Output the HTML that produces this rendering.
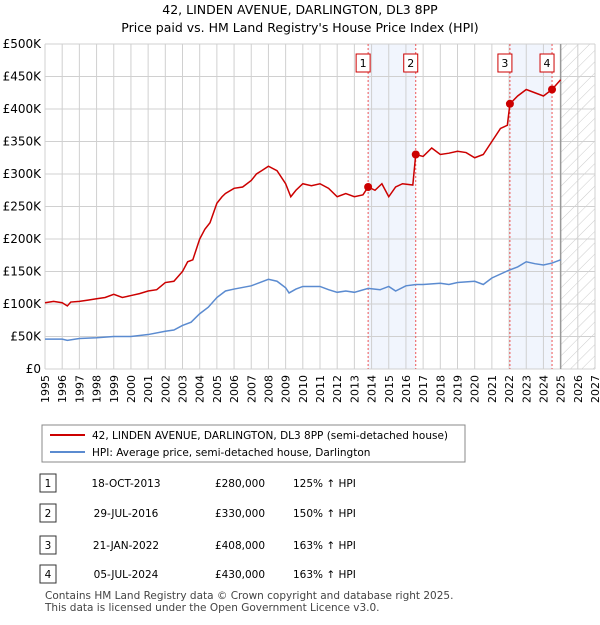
<!DOCTYPE html>
<html><head><meta charset="utf-8"><style>
body{margin:0;background:#fff;font-family:"Liberation Sans","DejaVu Sans",sans-serif;}
svg text{font-family:"DejaVu Sans","Liberation Sans",sans-serif;}
</style></head><body>
<svg id="c" width="600" height="620" xmlns="http://www.w3.org/2000/svg">
<defs><pattern id="h" width="8" height="8" patternUnits="userSpaceOnUse" patternTransform="rotate(45)"><line x1="0" y1="0" x2="0" y2="8" stroke="#ccc" stroke-width="1"/></pattern></defs>
<text x="300" y="14" text-anchor="middle" font-size="12.5">42, LINDEN AVENUE, DARLINGTON, DL3 8PP</text>
<text x="300" y="32" text-anchor="middle" font-size="12.5">Price paid vs. HM Land Registry's House Price Index (HPI)</text>
<g id="plot"></g>
<rect x="42" y="425" width="423" height="37" fill="#fff" stroke="#888"/>
<line x1="50" y1="435" x2="85" y2="435" stroke="#cc0000" stroke-width="2"/>
<text x="92" y="439" font-size="10.5">42, LINDEN AVENUE, DARLINGTON, DL3 8PP (semi-detached house)</text>
<line x1="50" y1="452" x2="85" y2="452" stroke="#5b8bd0" stroke-width="2"/>
<text x="92" y="456" font-size="10.5">HPI: Average price, semi-detached house, Darlington</text>
<g id="tbl"></g>
<text x="45" y="599" font-size="10.5" fill="#444">Contains HM Land Registry data © Crown copyright and database right 2025.</text>
<text x="45" y="611" font-size="10.5" fill="#444">This data is licensed under the Open Government Licence v3.0.</text>
</svg>
<script>
const redT=[1995,1995.5,1996,1996.3,1996.5,1997,1997.5,1998,1998.5,1999,1999.5,2000,2000.5,2001,2001.5,2002,2002.5,2003,2003.3,2003.6,2004,2004.3,2004.6,2005,2005.3,2005.5,2006,2006.5,2007,2007.3,2007.6,2008,2008.5,2009,2009.3,2009.6,2010,2010.5,2011,2011.5,2012,2012.5,2013,2013.5,2013.8,2014.2,2014.6,2015,2015.4,2015.8,2016.4,2016.57,2017,2017.5,2018,2018.5,2019,2019.5,2020,2020.5,2021,2021.5,2021.9,2022.05,2022.5,2023,2023.5,2024,2024.5,2025];
const redV=[102,104,102,97,103,104,106,108,110,115,110,113,116,120,122,133,135,150,165,168,200,215,225,255,265,270,278,280,290,300,305,312,305,285,265,275,285,282,285,278,265,270,265,268,280,275,285,265,280,285,283,330,327,340,330,332,335,333,325,330,350,370,375,408,420,430,425,420,430,445];
const hpiT=[1995,1996,1996.3,1997,1998,1999,2000,2001,2002,2002.5,2003,2003.5,2004,2004.5,2005,2005.5,2006,2007,2007.5,2008,2008.5,2009,2009.2,2009.6,2010,2011,2011.5,2012,2012.5,2013,2013.8,2014.5,2015,2015.4,2016,2016.6,2017,2018,2018.5,2019,2020,2020.5,2021,2022,2022.5,2023,2023.5,2024,2024.5,2025];
const hpiV=[46,46,44,47,48,50,50,53,58,60,67,72,85,95,110,120,123,128,133,138,135,125,117,123,127,127,122,118,120,118,124,122,127,120,128,130,130,132,130,133,135,130,140,152,157,165,162,160,163,168];
const saleT=[2013.8,2016.57,2022.05,2024.5];
const saleV=[280,330,408,430];
const saleDates=["18-OCT-2013","29-JUL-2016","21-JAN-2022","05-JUL-2024"];
const salePrices=["£280,000","£330,000","£408,000","£430,000"];
const saleHpi=["125% ↑ HPI","150% ↑ HPI","163% ↑ HPI","163% ↑ HPI"];
const yTicks=[0,50,100,150,200,250,300,350,400,450,500];
const yLabels=["£0","£50K","£100K","£150K","£200K","£250K","£300K","£350K","£400K","£450K","£500K"];
const years=[];for(let y=1995;y<=2027;y++)years.push(y);
const L=45,R=595,T=44,B=369,X0=1995,X1=2027;
const X=t=>L+(t-X0)*(R-L)/(X1-X0), Y=v=>B-v*(B-T)/500;
const NS="http://www.w3.org/2000/svg", g=document.getElementById('plot');
function mk(tag,at,par){const e=document.createElementNS(NS,tag);for(const k in at)e.setAttribute(k,at[k]);(par||g).appendChild(e);return e;}
let e;
e=mk('rect',{x:X(saleT[0]),y:T,width:X(saleT[1])-X(saleT[0]),height:B-T,fill:'#eef3fc',opacity:0.8});

e=mk('rect',{x:X(saleT[2]),y:T,width:X(saleT[3])-X(saleT[2]),height:B-T,fill:'#eef3fc',opacity:0.8});

e=mk('rect',{x:X(2025),y:T,width:R-X(2025),height:B-T,fill:'url(#h)'});

years.forEach(y=>{e=mk('line',{x1:X(y),x2:X(y),y1:T,y2:B,stroke:'#d0d0d0'});

e=mk('text',{x:0,y:0,'font-size':11,'text-anchor':'end',transform:`translate(${X(y)+4},${B+6}) rotate(-90)`});e.textContent=y;
});
yTicks.forEach((v,i)=>{e=mk('line',{x1:L,x2:R,y1:Y(v),y2:Y(v),stroke:'#d0d0d0'});

e=mk('text',{x:L-4,y:Y(v)+4,'font-size':12,'text-anchor':'end'});e.textContent=yLabels[i];
});
e=mk('line',{x1:X(2025),x2:X(2025),y1:T,y2:B,stroke:'#999',"stroke-width":1.5});

saleT.forEach((t,i)=>{e=mk('line',{x1:X(t),x2:X(t),y1:T,y2:B,stroke:'#e55','stroke-dasharray':'2,2'});

const bx=X(t)-12;
e=mk('rect',{x:bx,y:54,width:14,height:18,fill:'#fff',stroke:'#c00'});

e=mk('text',{x:bx+7,y:67,'font-size':11,'text-anchor':'middle'});e.textContent=i+1;
});
e=mk('polyline',{points:hpiT.map((t,i)=>X(t)+','+Y(hpiV[i])).join(' '),fill:'none',stroke:'#5b8bd0','stroke-width':1.5});

e=mk('polyline',{points:redT.map((t,i)=>X(t)+','+Y(redV[i])).join(' '),fill:'none',stroke:'#cc0000','stroke-width':1.5});

saleT.forEach((t,i)=>{e=mk('circle',{cx:X(t),cy:Y(saleV[i]),r:4,fill:'#cc0000'});
});
const tb=document.getElementById('tbl'),rowsY=[483,513,545,574];
rowsY.forEach((y,i)=>{e=mk('rect',{x:40,y:y-9,width:16,height:18,fill:'#fff',stroke:'#333'},tb);

e=mk('text',{x:48,y:y+4,'font-size':10.5,'text-anchor':'middle'},tb);e.textContent=i+1;

e=mk('text',{x:126,y:y+4,'font-size':10.5,'text-anchor':'middle'},tb);e.textContent=saleDates[i];

e=mk('text',{x:240,y:y+4,'font-size':10.5,'text-anchor':'middle'},tb);e.textContent=salePrices[i];

e=mk('text',{x:293,y:y+4,'font-size':10.5},tb);e.textContent=saleHpi[i];
});
</script>
</body></html>
